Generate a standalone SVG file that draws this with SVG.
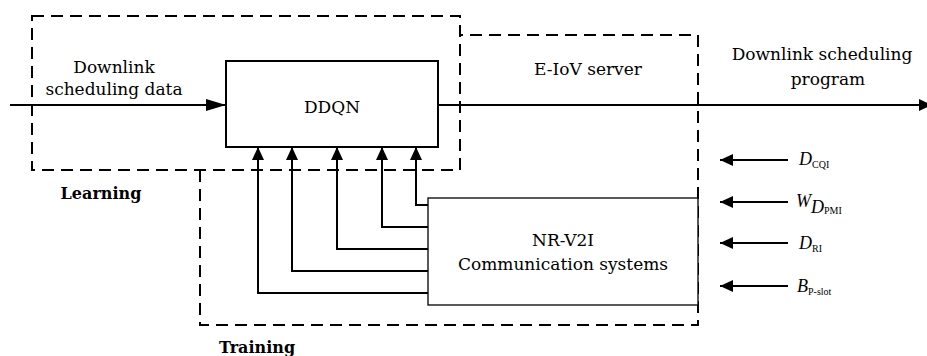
<svg xmlns="http://www.w3.org/2000/svg" width="927" height="356" viewBox="0 0 927 356">
<defs>
<style>
.dash{fill:none;stroke:#000;stroke-width:2;stroke-dasharray:12 7}
.box{fill:#fff;stroke:#000}
.ln{fill:none;stroke:#000;stroke-width:2}
.t{font-family:"DejaVu Serif","Liberation Serif",serif;font-size:17px;fill:#000;text-anchor:middle}
.b{font-family:"DejaVu Serif","Liberation Serif",serif;font-size:16px;font-weight:bold;fill:#000;text-anchor:middle}
.m{font-family:"Liberation Serif",serif;font-size:18px;font-style:italic;fill:#000}
.s{font-family:"Liberation Serif",serif;font-size:10px;font-style:normal}
</style>
<marker id="ah" markerWidth="20" markerHeight="12" refX="20" refY="6" orient="auto" markerUnits="userSpaceOnUse">
<path d="M0,0 L20,6 L0,12 Z" fill="#000"/>
</marker>
<marker id="as" markerWidth="13" markerHeight="12" refX="13" refY="6" orient="auto" markerUnits="userSpaceOnUse">
<path d="M0,0 L13,6 L0,12 Z" fill="#000"/>
</marker>
</defs>
<g id="regions">
<rect class="dash" x="32" y="16" width="428" height="154"/>
<path class="dash" d="M200,170 V325 H698 V35 H460"/>
</g>
<g id="ddqn">
<rect class="box" x="226" y="61" width="212" height="86" stroke-width="2"/>
<text class="t" x="332" y="113">DDQN</text>
</g>
<g id="nrv2i">
<rect class="box" x="428" y="198" width="270" height="107" stroke-width="1.3"/>
<text class="t" x="563" y="246">NR-V2I</text>
<text class="t" x="563" y="270">Communication systems</text>
</g>
<g id="connectors">
<line class="ln" x1="10" y1="105" x2="226" y2="105" marker-end="url(#ah)"/>
<line class="ln" x1="438" y1="105" x2="932" y2="105" marker-end="url(#as)"/>
<polyline class="ln" points="428,205 416,205 416,147" marker-end="url(#as)"/>
<polyline class="ln" points="428,227 382,227 382,147" marker-end="url(#as)"/>
<polyline class="ln" points="428,249 337,249 337,147" marker-end="url(#as)"/>
<polyline class="ln" points="428,271 292,271 292,147" marker-end="url(#as)"/>
<polyline class="ln" points="428,293 258,293 258,147" marker-end="url(#as)"/>
<line class="ln" x1="788" y1="160" x2="720" y2="160" marker-end="url(#as)"/>
<line class="ln" x1="788" y1="202" x2="720" y2="202" marker-end="url(#as)"/>
<line class="ln" x1="788" y1="243" x2="720" y2="243" marker-end="url(#as)"/>
<line class="ln" x1="788" y1="286" x2="720" y2="286" marker-end="url(#as)"/>
</g>
<g id="labels">
<text class="t" x="114" y="73">Downlink</text>
<text class="t" x="114" y="95">scheduling data</text>
<text class="t" x="588" y="75">E-IoV server</text>
<text class="t" x="822" y="60">Downlink scheduling</text>
<text class="t" x="828" y="85">program</text>
<text class="b" x="101" y="199">Learning</text>
<text class="b" x="257" y="353">Training</text>
<text class="m" x="799" y="165">D<tspan class="s" dy="3">CQI</tspan></text>
<text class="m" x="796" y="207">W<tspan class="m" font-size="12" dy="6">D</tspan><tspan class="s" font-size="8" dy="1">PMI</tspan></text>
<text class="m" x="799" y="249">D<tspan class="s" dy="3">RI</tspan></text>
<text class="m" x="797" y="292">B<tspan class="s" dy="3">P-slot</tspan></text>
</g>
</svg>
